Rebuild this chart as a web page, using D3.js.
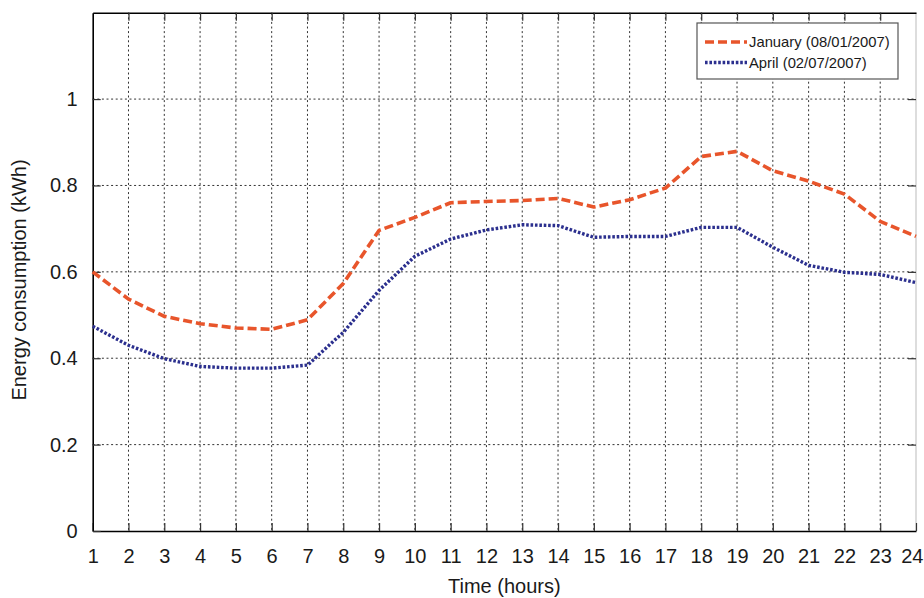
<!DOCTYPE html>
<html>
<head>
<meta charset="utf-8">
<script src="https://cdn.jsdelivr.net/npm/d3@7"></script>
<style>
  html, body { margin: 0; padding: 0; background: #fff; }
  svg { display: block; font-family: "Liberation Sans", Arial, sans-serif; }
</style>
</head>
<body>
<svg id="chart" width="924" height="598"></svg>
<script>
// Hourly household energy use for two sample days
const hours = [1,2,3,4,5,6,7,8,9,10,11,12,13,14,15,16,17,18,19,20,21,22,23,24];
const january = [0.600,0.537,0.497,0.480,0.470,0.467,0.489,0.573,0.696,0.726,0.760,0.763,0.765,0.770,0.750,0.767,0.794,0.867,0.879,0.834,0.810,0.780,0.717,0.682];
const april   = [0.474,0.430,0.399,0.381,0.377,0.377,0.384,0.460,0.557,0.636,0.676,0.697,0.709,0.707,0.680,0.682,0.682,0.703,0.703,0.657,0.615,0.599,0.594,0.575];
const yTicks = [0, 0.2, 0.4, 0.6, 0.8, 1];
const seriesNames = ["January (08/01/2007)", "April (02/07/2007)"];

const svg = d3.select("#chart");
const plotLeft = 92.7, plotRight = 916, plotTop = 12.7, plotBottom = 531;

const x = d3.scaleLinear().domain([1, 24]).range([plotLeft, plotRight]);
const y = d3.scaleLinear().domain([0, 1.2]).range([plotBottom, plotTop]);

// grid
const grid = svg.append("g").attr("stroke", "#333").attr("stroke-width", 1)
  .attr("stroke-dasharray", "2,2.6");
grid.selectAll("line.v").data(hours.slice(1, -1)).join("line")
  .attr("x1", d => x(d)).attr("x2", d => x(d))
  .attr("y1", plotTop).attr("y2", plotBottom);
grid.selectAll("line.h").data(yTicks.slice(1)).join("line")
  .attr("x1", plotLeft).attr("x2", plotRight)
  .attr("y1", d => y(d)).attr("y2", d => y(d));

// right border (faint)
svg.append("line").attr("x1", plotRight).attr("x2", plotRight).attr("y1", plotTop).attr("y2", plotBottom)
  .attr("stroke", "#bbb").attr("stroke-width", 1);

// axes
const xAxis = d3.axisBottom(x).tickValues(hours).tickFormat(d3.format("d"))
  .tickSizeInner(-8).tickSizeOuter(0).tickPadding(18);
const yAxis = d3.axisLeft(y).tickValues(yTicks).tickFormat(d => d === 0 ? "0" : d === 1 ? "1" : d3.format(".1f")(d))
  .tickSizeInner(-8).tickSizeOuter(0).tickPadding(15);
const xTop = d3.axisTop(x).tickValues(hours.slice(1, -1)).tickFormat("")
  .tickSizeInner(-8).tickSizeOuter(0);
const yRight = d3.axisRight(y).tickValues(yTicks.slice(1)).tickFormat("")
  .tickSizeInner(-8).tickSizeOuter(0);

function styleAxis(g) {
  g.attr("font-family", null).attr("font-size", null);
  g.select(".domain").attr("stroke", "#000").attr("stroke-width", 1.6);
  g.selectAll(".tick line").attr("stroke", "#333").attr("stroke-width", 1.2);
  g.selectAll(".tick text").attr("fill", "#1a1a1a").style("font-size", "20px");
}
const gx = svg.append("g").attr("transform", `translate(0,${plotBottom})`).call(xAxis).call(styleAxis);
// last hour label sits against the right edge
gx.selectAll(".tick text").filter(d => d === 24).attr("text-anchor", "end").attr("x", 7);
svg.append("g").attr("transform", `translate(${plotLeft},0)`).call(yAxis).call(styleAxis);
svg.append("g").attr("transform", `translate(0,${plotTop})`).call(xTop).call(styleAxis)
  .select(".domain").attr("stroke-width", 1.4);
const yr = svg.append("g").attr("transform", `translate(${plotRight},0)`).call(yRight).call(styleAxis);
yr.select(".domain").remove();

// series
const line = d3.line().x((d, i) => x(hours[i])).y(d => y(d));
const styles = [
  { data: january, color: "#E8552B", width: 3.6, dash: "9,4" },
  { data: april,   color: "#2B2F8E", width: 3.4, dash: "2.6,1.8" }
];
styles.forEach(s => {
  svg.append("path").datum(s.data).attr("d", line)
    .attr("fill", "none").attr("stroke", s.color).attr("stroke-width", s.width)
    .attr("stroke-dasharray", s.dash).attr("stroke-linejoin", "round");
});

// labels
svg.append("text").attr("x", x(12.5)).attr("y", 593).attr("text-anchor", "middle")
  .style("font-size", "20px").attr("fill", "#1a1a1a").text("Time (hours)");
svg.append("text").attr("transform", "translate(26,280) rotate(-90)").attr("text-anchor", "middle")
  .style("font-size", "20px").attr("fill", "#1a1a1a").text("Energy consumption (kWh)");

// legend
const lg = svg.append("g");
lg.append("rect").attr("x", 697).attr("y", 23).attr("width", 201).attr("height", 56)
  .attr("fill", "#fff").attr("stroke", "#555").attr("stroke-width", 1.2);
styles.forEach((s, i) => {
  const ly = 42 + i * 20.5;
  lg.append("line").attr("x1", 705).attr("x2", 747).attr("y1", ly).attr("y2", ly)
    .attr("stroke", s.color).attr("stroke-width", s.width).attr("stroke-dasharray", s.dash);
  lg.append("text").attr("x", 749).attr("y", ly + 5).style("font-size", "14.8px")
    .attr("fill", "#1a1a1a").text(seriesNames[i]);
});
</script>
</body>
</html>
